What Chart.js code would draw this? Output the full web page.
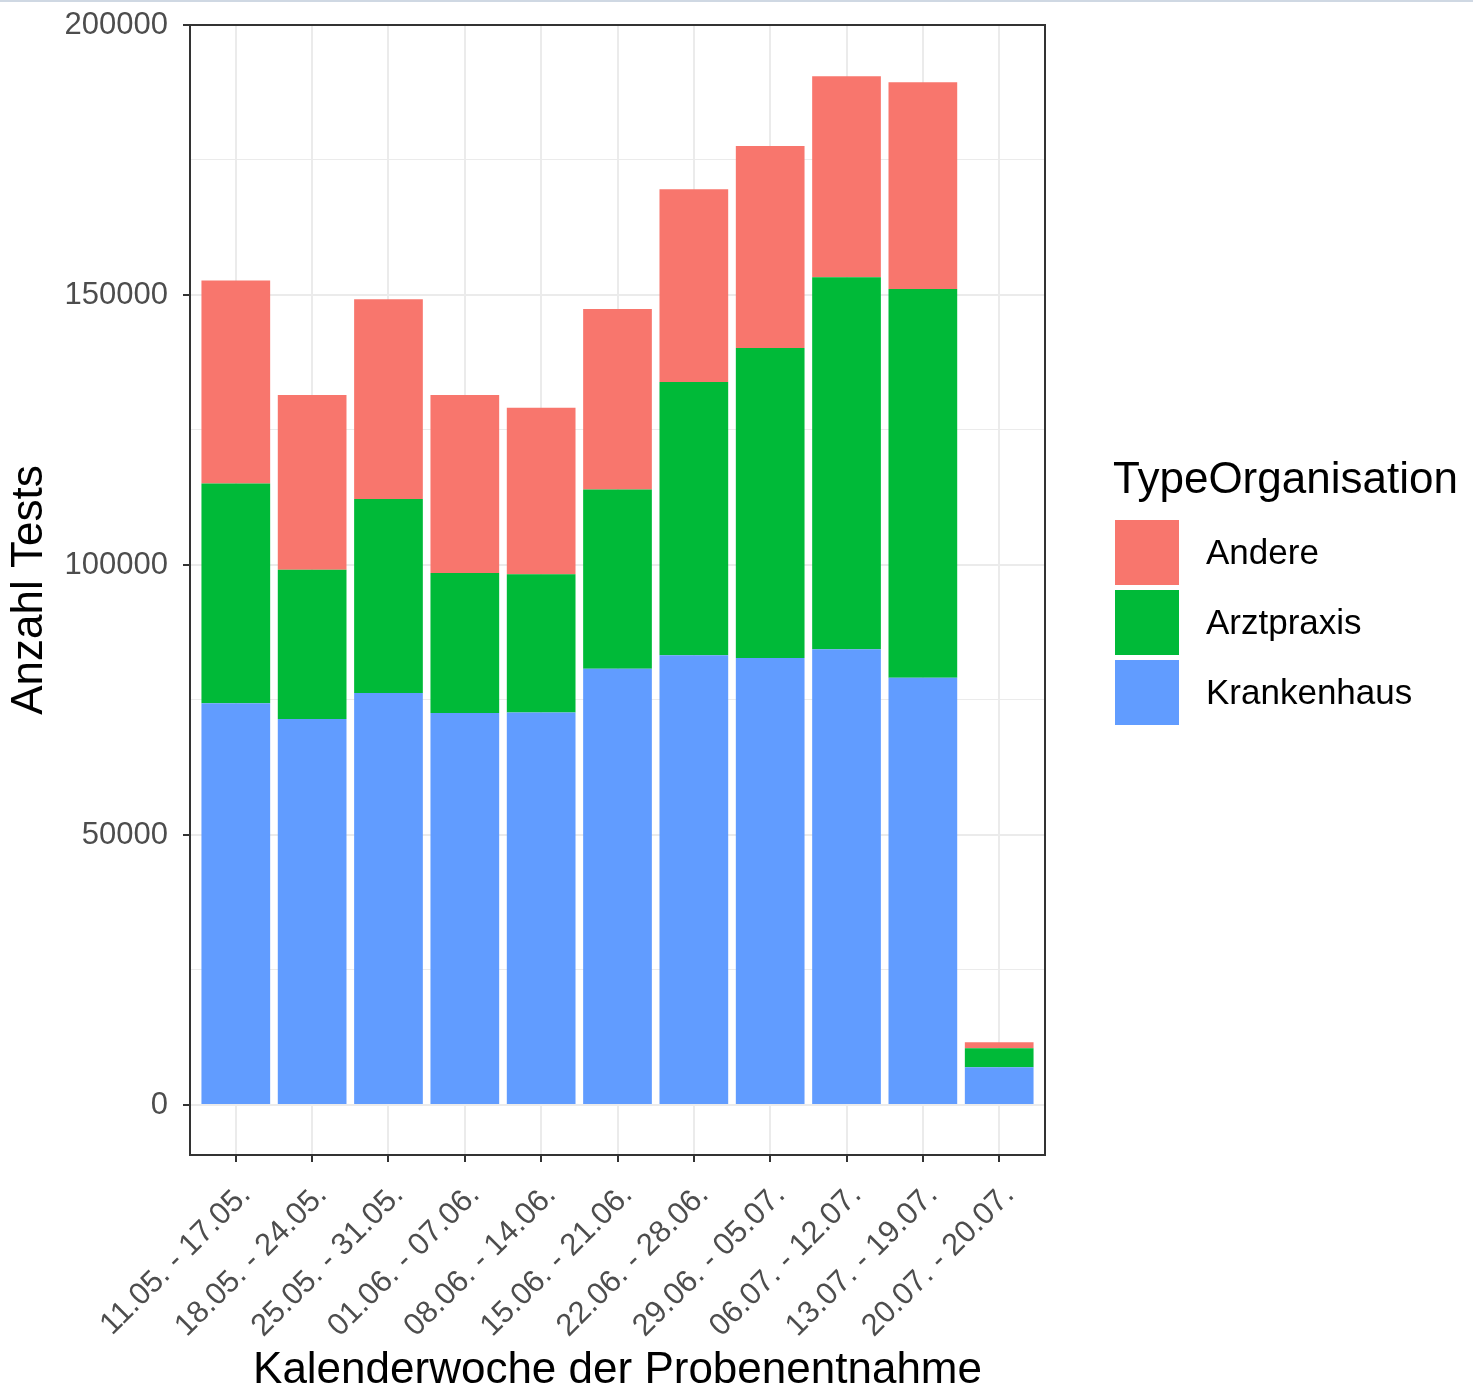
<!DOCTYPE html>
<html>
<head>
<meta charset="utf-8">
<script src="https://cdn.jsdelivr.net/npm/chart.js@4.4.0/dist/chart.umd.min.js"></script>
<style>
    html, body { margin: 0; padding: 0; background: #ffffff; }
    #wrap { position: relative; width: 1473px; height: 1394px; }
    #topline { position: absolute; left: 0; top: 0; width: 1473px; height: 2px; background: #cfd8e3; }
</style>
</head>
<body>
<div id="wrap">
    <canvas id="grafico"></canvas>
    <div id="topline"></div>
</div>
<script>
// Kalenderwochen (x categories)
var wochen = ["11.05. - 17.05.", "18.05. - 24.05.", "25.05. - 31.05.", "01.06. - 07.06.",
    "08.06. - 14.06.", "15.06. - 21.06.", "22.06. - 28.06.", "29.06. - 05.07.",
    "06.07. - 12.07.", "13.07. - 19.07.", "20.07. - 20.07."];

// Anzahl Tests je TypeOrganisation (stacked, bottom to top)
var krankenhaus = [74400, 71500, 76300, 72600, 72700, 80800, 83300, 82800, 84400, 79100, 7000];
var arztpraxis  = [40700, 27600, 35900, 25900, 25600, 33200, 50600, 57400, 68900, 72000, 3500];
var andere      = [37600, 32400, 37000, 33000, 30800, 33400, 35700, 37400, 37200, 38300, 1100];

var yTicks = [0, 50000, 100000, 150000, 200000];
var yMinor = [25000, 75000, 125000, 175000];

var schrift = "'Liberation Sans', Arial, sans-serif";

function punkte(werte) {
    return werte.map(function (v, i) { return { x: i, y: v }; });
}

// panel border like ggplot theme_bw + legend drawn beside the panel
var panelPlugin = {
    id: 'panel',
    afterDraw: function (chart) {
        var c = chart.ctx;
        var a = chart.chartArea;
        c.save();
        c.strokeStyle = '#333333';
        c.lineWidth = 2;
        c.strokeRect(a.left, a.top, a.right - a.left, a.bottom - a.top);

        // legend
        var mitte = (a.top + a.bottom) / 2;
        var lx = a.right + 70;
        c.fillStyle = '#000000';
        c.font = '44px ' + schrift;
        c.textAlign = 'left';
        c.textBaseline = 'alphabetic';
        c.fillText('TypeOrganisation', lx - 2, mitte - 97);
        var ds = chart.data.datasets.slice().reverse();
        c.font = '35px ' + schrift;
        c.textBaseline = 'middle';
        ds.forEach(function (d, i) {
            var y = mitte - 70 + i * 70;
            c.fillStyle = d.backgroundColor;
            c.fillRect(lx, y, 64, 65);
            c.fillStyle = '#000000';
            c.fillText(d.label, lx + 91, y + 34);
        });
        c.restore();
    }
};

var ctx = document.getElementById("grafico");
var myBarChart = new Chart(ctx, {
    type: 'bar',
    data: {
        datasets: [
            { label: 'Krankenhaus', data: punkte(krankenhaus), backgroundColor: '#619CFF' },
            { label: 'Arztpraxis', data: punkte(arztpraxis), backgroundColor: '#00BA38' },
            { label: 'Andere', data: punkte(andere), backgroundColor: '#F8766D' }
        ]
    },
    plugins: [panelPlugin],
    options: {
        responsive: true,
        maintainAspectRatio: false,
        animation: false,
        layout: { padding: { top: 25, right: 428, left: 0, bottom: 0 } },
        datasets: {
            bar: { categoryPercentage: 0.9, barPercentage: 1.0, borderWidth: 0 }
        },
        plugins: {
            legend: { display: false },
            tooltip: { enabled: false }
        },
        scales: {
            x: {
                type: 'linear',
                stacked: true,
                offset: false,
                min: -0.6,
                max: wochen.length - 0.4,
                afterBuildTicks: function (scale) {
                    scale.ticks = wochen.map(function (w, i) { return { value: i }; });
                },
                afterFit: function (scale) { scale.height = 239; },
                grid: {
                    offset: false,
                    color: '#EBEBEB',
                    lineWidth: 2,
                    tickColor: '#333333',
                    tickWidth: 2,
                    tickLength: 7
                },
                border: { display: false },
                ticks: {
                    autoSkip: false,
                    maxRotation: 45,
                    minRotation: 45,
                    padding: 15,
                    labelOffset: 10,
                    color: '#4D4D4D',
                    font: { family: schrift, size: 31 },
                    callback: function (value) { return wochen[value]; }
                },
                title: {
                    display: true,
                    text: 'Kalenderwoche der Probenentnahme',
                    color: '#000000',
                    font: { family: schrift, size: 44, lineHeight: 1.0 },
                    padding: { top: 0, bottom: 1 }
                }
            },
            y: {
                stacked: true,
                min: -9260,
                max: 200000,
                afterBuildTicks: function (scale) {
                    scale.ticks = yTicks.concat(yMinor).sort(function (a, b) { return a - b; })
                        .map(function (v) { return { value: v }; });
                },
                afterFit: function (scale) { scale.width = 190; },
                grid: {
                    color: '#EBEBEB',
                    lineWidth: function (c) { return yTicks.indexOf(c.tick.value) >= 0 ? 2 : 1; },
                    tickColor: function (c) { return yTicks.indexOf(c.tick.value) >= 0 ? '#333333' : 'rgba(0,0,0,0)'; },
                    tickWidth: 2,
                    tickLength: 7
                },
                border: { display: false },
                ticks: {
                    autoSkip: false,
                    padding: 15,
                    color: '#4D4D4D',
                    font: { family: schrift, size: 31, lineHeight: 0.6 },
                    callback: function (value) { return yTicks.indexOf(value) >= 0 ? String(value) : ''; }
                },
                title: {
                    display: true,
                    text: 'Anzahl Tests',
                    color: '#000000',
                    font: { family: schrift, size: 44, lineHeight: 1.0 },
                    padding: { top: 8, bottom: 0 }
                }
            }
        }
    }
});
</script>
</body>
</html>
